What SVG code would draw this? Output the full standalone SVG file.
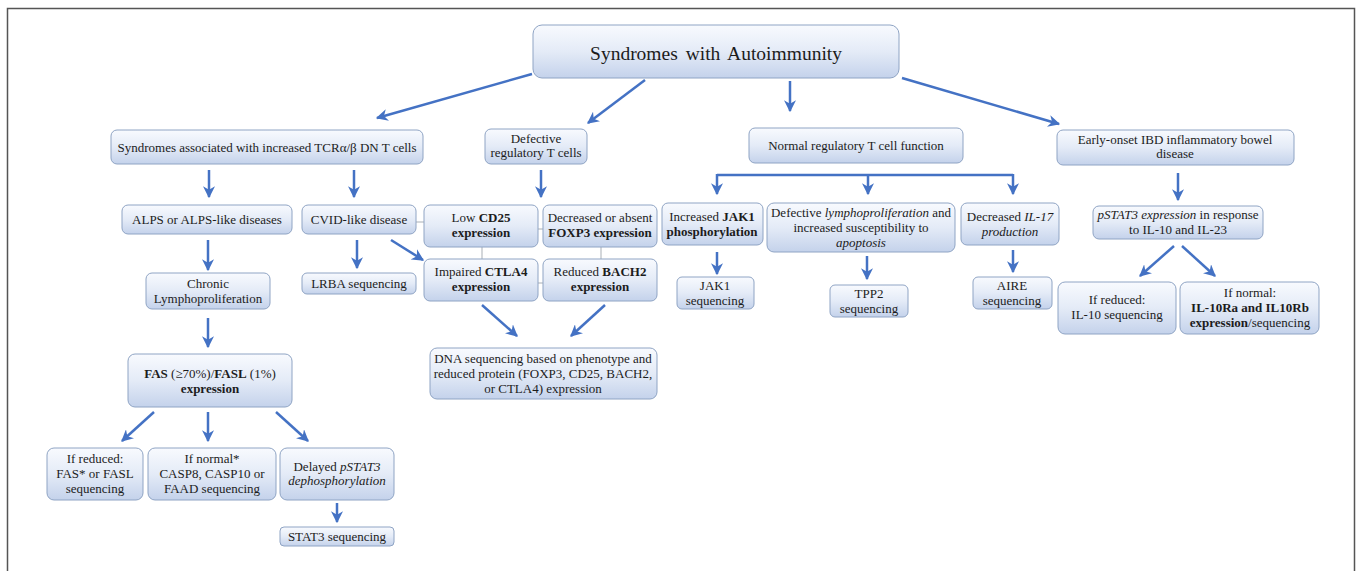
<svg xmlns="http://www.w3.org/2000/svg" width="1357" height="571" viewBox="0 0 1357 571">
<style>
.box{fill:url(#g);stroke:#8fa4c4;stroke-width:1}
.t{font-family:"Liberation Serif","Times New Roman",serif;font-size:13px;fill:#1c1c1c;text-anchor:middle}
.b{font-weight:bold}
.i{font-style:italic}
.ar{stroke:#4472c4;stroke-width:2.5;fill:none;marker-end:url(#ah)}
.ln{stroke:#4472c4;stroke-width:2.5;fill:none}
.gl{stroke:#a9afb6;stroke-width:1;fill:none}
</style>
<defs>
<linearGradient id="g" x1="0" y1="0" x2="0" y2="1">
<stop offset="0" stop-color="#f8fafe"/>
<stop offset="0.5" stop-color="#e4ebf7"/>
<stop offset="1" stop-color="#c4d2eb"/>
</linearGradient>
<marker id="ah" viewBox="0 0 10 10" refX="9" refY="5" markerWidth="12" markerHeight="12" markerUnits="userSpaceOnUse" orient="auto">
<path d="M0,0 L10,5 L0,10 L3,5 z" fill="#4472c4"/>
</marker>
</defs>
<rect width="1357" height="571" fill="#ffffff"/>
<path d="M7.5,571 V8.5 H1354.5 V571" fill="none" stroke="#555" stroke-width="1.5"/>

<g id="connectors">
<line class="ar" x1="532" y1="74" x2="377" y2="118"/>
<line class="ar" x1="645" y1="80" x2="588" y2="123"/>
<line class="ar" x1="790" y1="81" x2="790" y2="111"/>
<line class="ar" x1="902" y1="78" x2="1059" y2="124"/>
<line class="ar" x1="209" y1="170" x2="209" y2="197"/>
<line class="ar" x1="354" y1="170" x2="354" y2="197"/>
<line class="ar" x1="541" y1="170" x2="541" y2="197"/>
<path class="ln" d="M717,175 H1013"/>
<line class="ar" x1="717" y1="174" x2="717" y2="194"/>
<line class="ar" x1="868" y1="175" x2="868" y2="194"/>
<line class="ar" x1="1013" y1="174" x2="1013" y2="194"/>
<line class="ar" x1="1178" y1="173" x2="1178" y2="200"/>
<line class="ar" x1="208" y1="240" x2="208" y2="270"/>
<line class="ar" x1="357" y1="240" x2="357" y2="268"/>
<line class="ar" x1="391" y1="240" x2="423" y2="260"/>
<line class="ar" x1="208" y1="318" x2="208" y2="347"/>
<line class="ar" x1="482" y1="305" x2="517" y2="336"/>
<line class="ar" x1="605" y1="305" x2="571" y2="336"/>
<line class="ar" x1="717" y1="252" x2="717" y2="274"/>
<line class="ar" x1="867" y1="256" x2="867" y2="279"/>
<line class="ar" x1="1013" y1="250" x2="1013" y2="272"/>
<line class="ar" x1="1174" y1="246" x2="1140" y2="276"/>
<line class="ar" x1="1182" y1="246" x2="1215" y2="276"/>
<line class="ar" x1="154" y1="412" x2="122" y2="441"/>
<line class="ar" x1="208" y1="412" x2="208" y2="441"/>
<line class="ar" x1="276" y1="412" x2="308" y2="441"/>
<line class="ar" x1="337" y1="503" x2="337" y2="522"/>
<path class="gl" d="M416,222 H424 M538,229 H543 M538,283 H543 M482,247 V259 M601,247 V259"/>
</g>

<g id="title"><rect class="box" x="533" y="25" width="366" height="53" rx="9"/>
<text class="t" x="716" y="60" style="font-size:19.5px" word-spacing="3">Syndromes with Autoimmunity</text></g>

<g id="tcr"><rect class="box" x="111" y="130" width="312" height="34" rx="6"/>
<text class="t" x="267" y="152">Syndromes associated with increased TCRα/β DN T cells</text></g>

<g id="defreg"><rect class="box" x="485" y="129" width="102" height="35" rx="6"/>
<text class="t" x="536" y="143">Defective</text>
<text class="t" x="536" y="157">regulatory T cells</text></g>

<g id="normal"><rect class="box" x="749" y="128" width="214" height="35" rx="6"/>
<text class="t" x="856" y="150">Normal regulatory T cell function</text></g>

<g id="ibd"><rect class="box" x="1057" y="130" width="237" height="35" rx="6"/>
<text class="t" x="1175" y="144">Early-onset IBD inflammatory bowel</text>
<text class="t" x="1175" y="158">disease</text></g>

<g id="alps"><rect class="box" x="122" y="205" width="170" height="29" rx="6"/>
<text class="t" x="207" y="224">ALPS or ALPS-like diseases</text></g>

<g id="cvid"><rect class="box" x="302" y="205" width="114" height="29" rx="6"/>
<text class="t" x="359" y="224">CVID-like disease</text></g>

<g id="lowcd25"><rect class="box" x="424" y="205" width="114" height="42" rx="6"/>
<text class="t" x="481" y="222">Low <tspan class="b">CD25</tspan></text>
<text class="t b" x="481" y="237">expression</text></g>

<g id="foxp3"><rect class="box" x="543" y="205" width="114" height="42" rx="6"/>
<text class="t" x="600" y="222">Decreased or absent</text>
<text class="t b" x="600" y="237">FOXP3 expression</text></g>

<g id="ctla4"><rect class="box" x="424" y="259" width="114" height="42" rx="6"/>
<text class="t" x="481" y="276">Impaired <tspan class="b">CTLA4</tspan></text>
<text class="t b" x="481" y="291">expression</text></g>

<g id="bach2"><rect class="box" x="543" y="259" width="114" height="42" rx="6"/>
<text class="t" x="600" y="276">Reduced <tspan class="b">BACH2</tspan></text>
<text class="t b" x="600" y="291">expression</text></g>

<g id="chronic"><rect class="box" x="146" y="273" width="124" height="36" rx="6"/>
<text class="t" x="208" y="288">Chronic</text>
<text class="t" x="208" y="303">Lymphoproliferation</text></g>

<g id="lrba"><rect class="box" x="302" y="273" width="114" height="21" rx="5"/>
<text class="t" x="359" y="288">LRBA sequencing</text></g>

<g id="dna"><rect class="box" x="430" y="348" width="227" height="51" rx="7"/>
<text class="t" x="543" y="363">DNA sequencing based on phenotype and</text>
<text class="t" x="543" y="378">reduced protein (FOXP3, CD25, BACH2,</text>
<text class="t" x="543" y="393">or CTLA4) expression</text></g>

<g id="fas"><rect class="box" x="128" y="354" width="164" height="53" rx="7"/>
<text class="t" x="210" y="378"><tspan class="b">FAS</tspan> (≥70%)/<tspan class="b">FASL</tspan> (1%)</text>
<text class="t b" x="210" y="393">expression</text></g>

<g id="jak1"><rect class="box" x="662" y="203" width="101" height="42" rx="6"/>
<text class="t" x="712" y="221">Increased <tspan class="b">JAK1</tspan></text>
<text class="t b" x="712" y="236">phosphorylation</text></g>

<g id="jak1seq"><rect class="box" x="677" y="277" width="77" height="32" rx="5"/>
<text class="t" x="715" y="290">JAK1</text>
<text class="t" x="715" y="305">sequencing</text></g>

<g id="defly"><rect class="box" x="767" y="203" width="188" height="49" rx="7"/>
<text class="t" x="861" y="217">Defective <tspan class="i">lymphoproliferation</tspan> and</text>
<text class="t" x="861" y="232">increased susceptibility to</text>
<text class="t i" x="861" y="247">apoptosis</text></g>

<g id="tpp2"><rect class="box" x="830" y="285" width="78" height="32" rx="5"/>
<text class="t" x="869" y="298">TPP2</text>
<text class="t" x="869" y="313">sequencing</text></g>

<g id="il17"><rect class="box" x="961" y="203" width="98" height="42" rx="6"/>
<text class="t" x="1010" y="221">Decreased <tspan class="i">IL-17</tspan></text>
<text class="t i" x="1010" y="236">production</text></g>

<g id="aire"><rect class="box" x="973" y="277" width="79" height="32" rx="5"/>
<text class="t" x="1012" y="290">AIRE</text>
<text class="t" x="1012" y="305">sequencing</text></g>

<g id="pstat3"><rect class="box" x="1093" y="206" width="170" height="33" rx="6"/>
<text class="t" x="1178" y="219"><tspan class="i">pSTAT3 expression</tspan> in response</text>
<text class="t" x="1178" y="234">to IL-10 and IL-23</text></g>

<g id="il10red"><rect class="box" x="1058" y="282" width="118" height="52" rx="7"/>
<text class="t" x="1117" y="304">If reduced:</text>
<text class="t" x="1117" y="319">IL-10 sequencing</text></g>

<g id="il10norm"><rect class="box" x="1180" y="282" width="139" height="52" rx="7"/>
<text class="t" x="1250" y="297">If normal:</text>
<text class="t b" x="1250" y="312">IL-10Ra and IL10Rb</text>
<text class="t" x="1250" y="327"><tspan class="b">expression</tspan>/sequencing</text></g>

<g id="fasred"><rect class="box" x="47" y="448" width="96" height="52" rx="7"/>
<text class="t" x="95" y="463">If reduced:</text>
<text class="t" x="95" y="478">FAS* or FASL</text>
<text class="t" x="95" y="493">sequencing</text></g>

<g id="casp"><rect class="box" x="148" y="448" width="128" height="52" rx="7"/>
<text class="t" x="212" y="463">If normal*</text>
<text class="t" x="212" y="478">CASP8, CASP10 or</text>
<text class="t" x="212" y="493">FAAD sequencing</text></g>

<g id="delayed"><rect class="box" x="280" y="448" width="114" height="52" rx="7"/>
<text class="t" x="337" y="471">Delayed <tspan class="i">pSTAT3</tspan></text>
<text class="t i" x="337" y="485">dephosphorylation</text></g>

<g id="stat3seq"><rect class="box" x="280" y="527" width="114" height="19" rx="4"/>
<text class="t" x="337" y="541">STAT3 sequencing</text></g>
</svg>
